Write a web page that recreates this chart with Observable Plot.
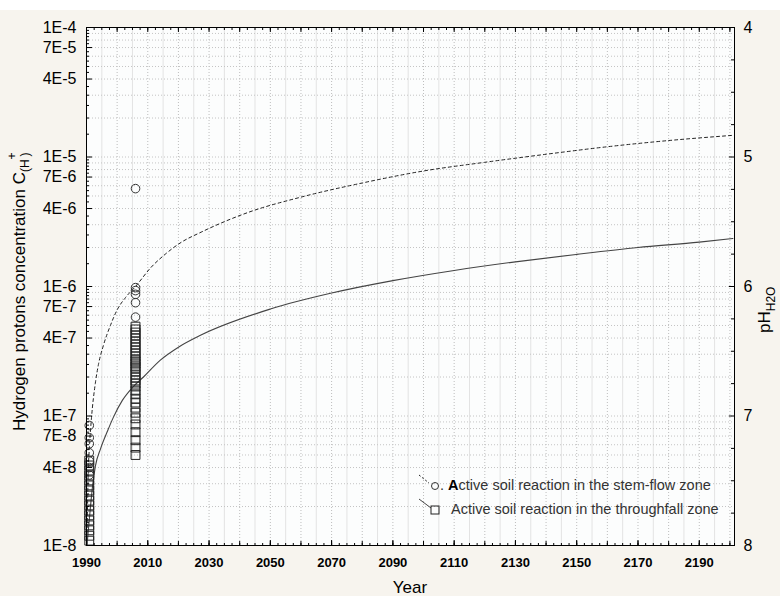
<!DOCTYPE html>
<html><head><meta charset="utf-8">
<script src="https://cdn.jsdelivr.net/npm/d3@7"></script>
<script src="https://cdn.jsdelivr.net/npm/@observablehq/plot@0.6"></script>
<style>
html,body{margin:0;padding:0;background:#f7f4ee;}
#chart{width:780px;height:596px;}
svg{display:block;}
</style></head><body><div id="chart"></div>
<script>
// ---- data ----
// model curve, stem-flow zone (dashed)
const stemYears = [1990.15, 1990.5, 1991.0, 1991.6, 1992.9, 1993.9, 1995.5, 1997.8, 2000.0, 2002.7, 2006.0, 2011.0, 2016.0, 2021.0, 2027.0, 2043.0, 2060, 2080, 2100, 2120, 2140, 2160, 2180, 2201];
const stemC = [1.0e-8, 3.2e-8, 6.0e-8, 9.5e-8, 1.8e-7, 2.5e-7, 3.5e-7, 5.0e-7, 6.6e-7, 8.2e-7, 1.0e-6, 1.4e-6, 1.8e-6, 2.2e-6, 2.6e-6, 3.75e-6, 4.9e-6, 6.3e-6, 7.8e-6, 9.1e-6, 1.05e-5, 1.2e-5, 1.34e-5, 1.47e-5];
// model curve, throughfall zone (solid)
const thrYears = [1990.15, 1991.3, 1992.0, 1992.9, 1994.6, 1996.9, 1998.8, 2001.7, 2005.0, 2008.6, 2014.1, 2020.0, 2027.2, 2050, 2070, 2090, 2110, 2130, 2150, 2170, 2190, 2201];
const thrC = [1.0e-8, 2.0e-8, 2.9e-8, 4.1e-8, 5.6e-8, 7.7e-8, 9.8e-8, 1.32e-7, 1.66e-7, 2.0e-7, 2.7e-7, 3.4e-7, 4.2e-7, 6.7e-7, 8.9e-7, 1.11e-6, 1.33e-6, 1.55e-6, 1.77e-6, 2.0e-6, 2.2e-6, 2.35e-6];
// measurements, stem-flow zone (circles)
const stemObsYear1 = 1990.9;
const stemObs1 = [8.45e-8, 6.8e-8, 6.1e-8, 5.2e-8, 4.5e-8, 4.0e-8, 3.5e-8];
const stemObsYear2 = 2006;
const stemObs2 = [5.7e-6, 9.8e-7, 9.3e-7, 8.7e-7, 7.5e-7, 5.8e-7];
// measurements, throughfall zone (squares)
const thrObsYear1 = 1990.9;
const thrObs1 = [4.53e-8, 4.15e-8, 3.79e-8, 3.47e-8, 3.18e-8, 2.91e-8, 2.66e-8, 2.43e-8, 2.22e-8, 2.04e-8, 1.86e-8, 1.71e-8, 1.56e-8, 1.43e-8, 1.31e-8, 1.19e-8, 1.09e-8];
const thrObsYear2 = 2006;
const thrObs2 = [4.9e-7, 4.66e-7, 4.41e-7, 4.19e-7, 3.97e-7, 3.76e-7, 3.56e-7, 3.38e-7, 3.2e-7, 3.04e-7, 2.88e-7, 2.73e-7, 2.64e-7, 2.54e-7, 2.41e-7, 2.33e-7, 2.21e-7, 2.09e-7, 1.98e-7, 1.88e-7, 1.78e-7, 1.69e-7, 1.57e-7, 1.47e-7, 1.36e-7, 1.27e-7, 1.16e-7, 1.06e-7, 9.6e-8, 8.6e-8, 7.5e-8, 6.5e-8, 5.7e-8, 5.0e-8];

// ---- axes ----
const yTickVals = [1e-4, 7e-5, 4e-5, 1e-5, 7e-6, 4e-6, 1e-6, 7e-7, 4e-7, 1e-7, 7e-8, 4e-8, 1e-8];
const yTickLabels = ["1E-4", "7E-5", "4E-5", "1E-5", "7E-6", "4E-6", "1E-6", "7E-7", "4E-7", "1E-7", "7E-8", "4E-8", "1E-8"];
const pHTicks = [4, 5, 6, 7, 8];
const xTicks = [1990, 2010, 2030, 2050, 2070, 2090, 2110, 2130, 2150, 2170, 2190];
const xDomain = [1990, 2201.5];
const legendLabels = ["Active soil reaction in the stem-flow zone", "Active soil reaction in the throughfall zone"];

const pHVals = pHTicks.map(p => 10 ** -p);

const decades = [-8, -7, -6, -5];
const gridYVals = [1e-4];
const minorYVals = [];
for (const e of decades) for (let k = 1; k <= 9; k++) gridYVals.push(k * 10 ** e);
for (const e of decades) for (let k = 1; k < 10; k += 0.5) {
  const v = k * 10 ** e;
  if (!yTickVals.some(t => Math.abs(t - v) / v < 1e-6)) minorYVals.push(v);
}
const pHMinor = d3.range(4, 8.001, 0.25).filter(p => !pHTicks.includes(p));
const gridXMajor = d3.range(2000, 2201, 10);
const gridXMinor = d3.range(1995, 2201, 10);
const xMinorTicks = d3.range(1990, 2201, 2.5);
const xMidTicks = d3.range(1990, 2201, 10);

const toRows = (xs, ys) => xs.map((x, i) => ({x, y: ys[i]}));
const col = (x, ys) => ys.map(y => ({x, y}));

const font = "'Liberation Sans', Arial, sans-serif";
const plot = Plot.plot({
  width: 780, height: 596,
  marginLeft: 86, marginRight: 46, marginTop: 27, marginBottom: 51,
  style: {fontFamily: font, background: "linear-gradient(#ffffff 0 10px, #f7f4ee 10px)", color: "#000"},
  x: {domain: xDomain},
  y: {type: "log", domain: [1e-8, 1e-4]},
  marks: [
    Plot.frame({fill: "#fcfdfd", stroke: null}),
    Plot.gridX(gridXMinor, {stroke: "#e3e3e3", strokeOpacity: 1}),
    Plot.gridX(gridXMajor, {stroke: "#bdbdbd", strokeOpacity: 1, strokeDasharray: "1,2"}),
    Plot.gridY(gridYVals, {stroke: "#c4c4c4", strokeOpacity: 1, strokeDasharray: "1,2"}),
    Plot.line(toRows(stemYears, stemC), {x: "x", y: "y", curve: "monotone-x", stroke: "#222", strokeWidth: 1, strokeDasharray: "3,3", clip: true}),
    Plot.line(toRows(thrYears, thrC), {x: "x", y: "y", curve: "monotone-x", stroke: "#444", strokeWidth: 1.1, clip: true}),
    Plot.dot([...col(thrObsYear1, thrObs1), ...col(thrObsYear2, thrObs2)], {x: "x", y: "y", symbol: "square", r: 5, stroke: "#222", strokeWidth: 1, fill: "none"}),
    Plot.dot([...col(stemObsYear1, stemObs1), ...col(stemObsYear2, stemObs2)], {x: "x", y: "y", r: 4.3, stroke: "#333", strokeWidth: 1, fill: "none"}),
    // left axis: ticks + labels
    Plot.axisY(yTickVals, {anchor: "left", tickSize: -6, tickFormat: () => "", label: null}),
    Plot.axisY(minorYVals, {anchor: "left", tickSize: -3, tickFormat: () => "", label: null}),
    Plot.text(yTickVals, {y: d => d, text: (d, i) => yTickLabels[i], frameAnchor: "left", textAnchor: "end", dx: -10, fontSize: 16, fill: "#000"}),
    // right axis (pH = -log10 C)
    Plot.axisY(pHVals, {anchor: "right", tickSize: -6, tickFormat: () => "", label: null}),
    Plot.axisY(pHMinor.map(p => 10 ** -p), {anchor: "right", tickSize: -4, tickFormat: () => "", label: null}),
    Plot.text(pHVals, {y: d => d, text: (d, i) => String(pHTicks[i]), frameAnchor: "right", textAnchor: "start", dx: 9, fontSize: 16, fill: "#000"}),
    // bottom axis
    Plot.axisX(xTicks, {anchor: "bottom", tickSize: -5, tickPadding: 17, tickFormat: d => String(d), fontSize: 13, fontWeight: "bold", label: null}),
    Plot.axisX(xMidTicks, {anchor: "bottom", tickSize: -4, tickFormat: () => "", label: null}),
    Plot.axisX(xMinorTicks, {anchor: "bottom", tickSize: -2, tickFormat: () => "", label: null}),
    Plot.axisX(xMidTicks, {anchor: "top", tickSize: -4, tickFormat: () => "", label: null}),
    Plot.axisX(xMinorTicks, {anchor: "top", tickSize: -2, tickFormat: () => "", label: null}),
    Plot.frame({stroke: "#000", strokeWidth: 1})
  ]
});
document.getElementById("chart").appendChild(plot);

// ---- titles and legend ----
const svg = d3.select(plot);
// y title
const yt = svg.append("text")
  .attr("transform", "translate(25,431) rotate(-90)")
  .attr("text-anchor", "start")
  .attr("font-family", font).attr("font-size", 17).attr("fill", "#000");
yt.append("tspan").text("Hydrogen protons concentration C");
yt.append("tspan").attr("font-size", 12).attr("dy", 4).text("(H");
yt.append("tspan").attr("font-size", 12).attr("dy", -13).attr("dx", 0).text("+");
yt.append("tspan").attr("font-size", 12).attr("dy", 13).attr("dx", -4).text(")");
// right title
const rt = svg.append("text")
  .attr("transform", "translate(770,333) rotate(-90)")
  .attr("text-anchor", "start")
  .attr("font-family", font).attr("font-size", 17).attr("fill", "#000");
rt.append("tspan").text("pH");
rt.append("tspan").attr("font-size", 12).attr("dy", 5).text("H2O");
// x title
svg.append("text").attr("x", 410).attr("y", 593).attr("text-anchor", "middle")
  .attr("font-family", font).attr("font-size", 17).attr("fill", "#000").text("Year");

// legend
const lg = svg.append("g").attr("font-family", font).attr("font-size", 14.5).attr("fill", "#333").attr("text-anchor", "start");
lg.append("line").attr("x1", 419).attr("y1", 475).attr("x2", 429).attr("y2", 483).attr("stroke", "#222").attr("stroke-dasharray", "2,2");
lg.append("circle").attr("cx", 435).attr("cy", 486).attr("r", 3.5).attr("fill", "none").attr("stroke", "#333");
const l1 = lg.append("text").attr("x", 440).attr("y", 490);
l1.append("tspan").text(". ");
l1.append("tspan").attr("font-weight", "bold").attr("fill", "#000").text(legendLabels[0].slice(0, 1));
l1.append("tspan").text(legendLabels[0].slice(1));
lg.append("line").attr("x1", 419).attr("y1", 499).attr("x2", 431).attr("y2", 508).attr("stroke", "#444");
lg.append("rect").attr("x", 431).attr("y", 506).attr("width", 8).attr("height", 8).attr("fill", "none").attr("stroke", "#222");
lg.append("text").attr("x", 451).attr("y", 514).text(legendLabels[1]);
</script></body></html>
